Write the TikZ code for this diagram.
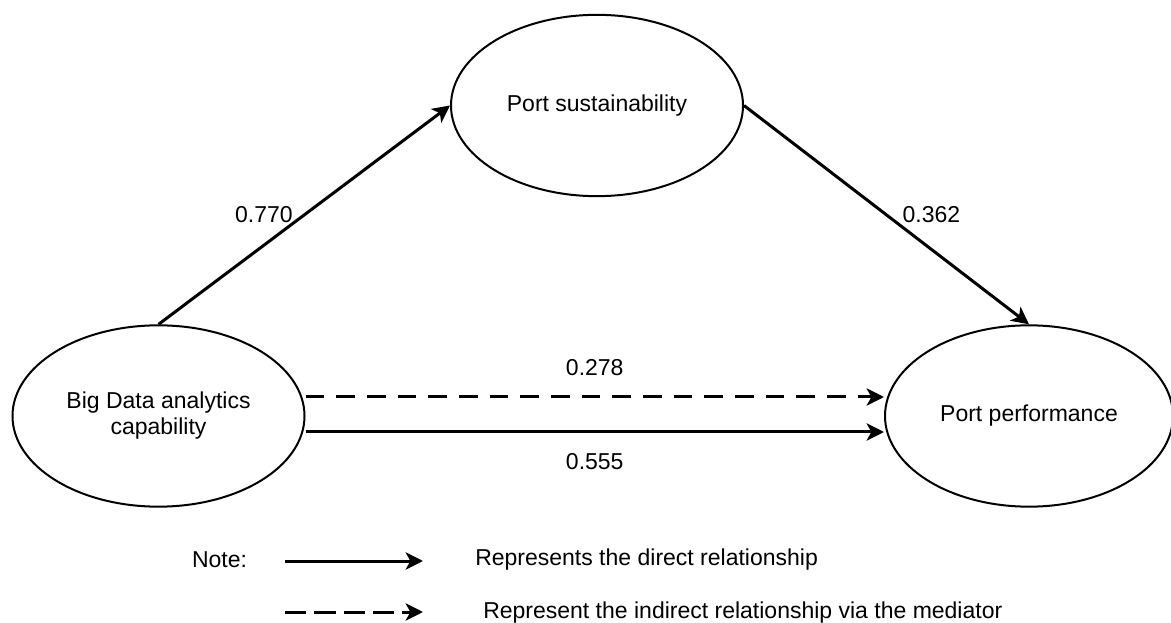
\documentclass[tikz,border=0pt]{standalone}
\usepackage{fontspec}
\setmainfont{Liberation Sans}
\usetikzlibrary{shapes.geometric,arrows.meta,calc}

\begin{document}
\begin{tikzpicture}[x=0.75pt, y=-0.75pt,
        font=\fontsize{17.25pt}{19.5pt}\selectfont,
        construct/.style={draw, ellipse, line width=1.5pt, inner sep=0pt, minimum width=219pt, minimum height=136pt, align=center},
        effect/.style={line width=2.25pt, -{Stealth[length=13pt, width=13pt, inset=3.5pt]}},
        mediated/.style={effect, dash pattern=on 14pt off 9pt},
        coef/.style={inner sep=0pt}]
        \useasboundingbox (0,0) rectangle (1171,623);

        % Define constructs as ellipses
        \node[construct] (PS) at (597,105.5) {Port sustainability};
        \node[construct] (BDA) at (158.5,416) {Big Data analytics\\capability};
        \node[construct, minimum width=216pt] (PP) at (1029,416) {Port performance};

        % Define paths between constructs
        \draw[effect] (BDA.north) -- (PS.west) node[coef, midway, left=7.5pt] {0.770};
        \draw[effect] (PS.east) -- (PP.north) node[coef, midway, right=11pt] {0.362};
        \draw[mediated] ($(BDA.east)+(0,-19)$) -- ($(PP.west)+(0,-19)$) node[coef, midway, above=15pt] {0.278};
        \draw[effect] ($(BDA.east)+(0,16)$) -- ($(PP.west)+(0,16)$) node[coef, midway, below=15pt] {0.555};

        % Define legend
        \node[coef] (note) at (219.5,560) {Note:};
        \coordinate (D1) at (285,561);
        \coordinate (D2) at (423,561);
        \coordinate (I1) at (285,612);
        \coordinate (I2) at (423,612);
        \node[coef, anchor=west] (direct) at (475,560) {Represents the direct relationship};
        \node[coef, anchor=west] (indirect) at (483,613) {Represent the indirect relationship via the mediator};

        \draw[effect] (D1) -- (D2);
        \draw[mediated, dash pattern=on 16pt off 6pt] (I1) -- (I2);
    \end{tikzpicture}
\end{document}
